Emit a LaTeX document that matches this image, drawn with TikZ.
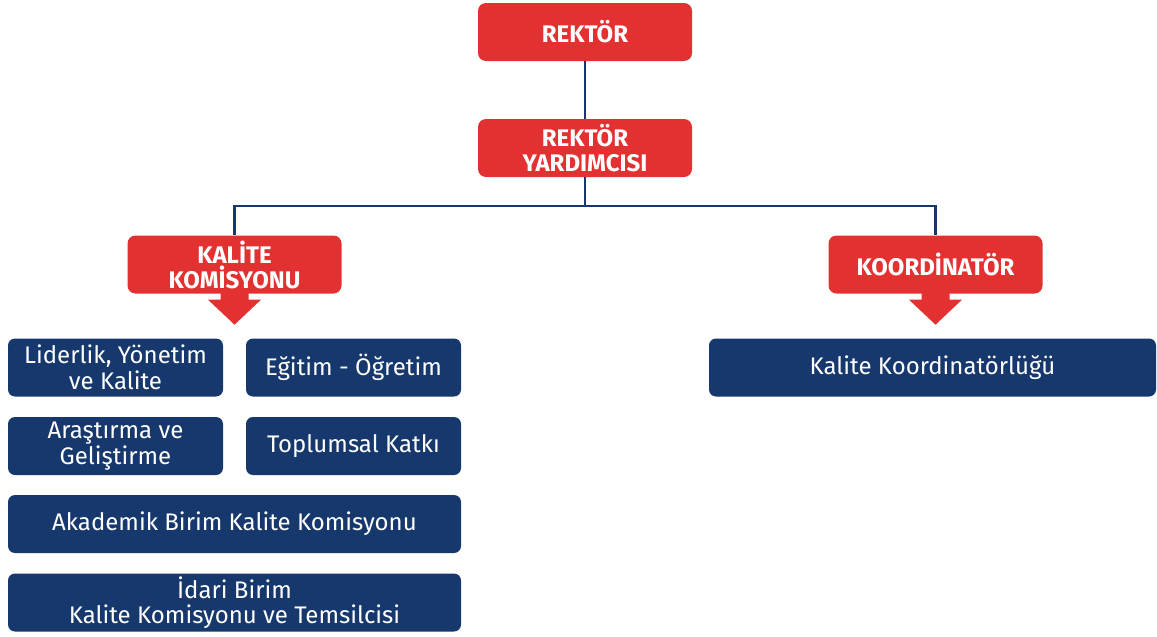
\documentclass[tikz,border=0pt]{standalone}
\usepackage{fontspec}
\setmainfont{Fira Sans}
\definecolor{kred}{HTML}{E33132}
\definecolor{kblue}{HTML}{16386C}
\begin{document}
\begin{tikzpicture}[x=1pt,y=-1pt,
 redbox/.style={fill=kred, rounded corners=8pt, text=white, font=\fontsize{24}{25}\selectfont\bfseries, align=center, inner sep=0pt, minimum width=214pt, minimum height=58pt},
 bluebox/.style={fill=kblue, rounded corners=7pt, text=white, font=\fontsize{24}{25.5}\selectfont, align=center, inner sep=0pt, minimum height=58pt},
 link/.style={draw=kblue, line width=2.6pt},
 downarrow/.style={fill=kred}]
\useasboundingbox (0,0) rectangle (1157,637);
% red boxes
\node[redbox] (rek) at (585,32) {REKTÖR};
\node[redbox] (ry) at (585,148) {REKTÖR\\YARDIMCISI};
\node[redbox] (kk) at (234.5,264.5) {KALİTE\\KOMİSYONU};
\node[redbox] (ko) at (935.5,264.5) {KOORDİNATÖR};
% connectors
\coordinate (bus) at (585,206);
\draw[link] (rek.south) -- (ry.north);
\draw[link] (ry.south) -- (bus);
\draw[link] (kk.north) |- (bus) -| (ko.north);
% down arrows
\fill[downarrow, shift={(kk.south)}] (-14,-2) -- (14,-2) -- (14,6) -- (26.5,6) -- (0,31) -- (-26.5,6) -- (-14,6) -- cycle;
\fill[downarrow, shift={(ko.south)}] (-14,-2) -- (14,-2) -- (14,6) -- (26.5,6) -- (0,31) -- (-26.5,6) -- (-14,6) -- cycle;
% blue boxes
\node[bluebox, minimum width=215pt] (lid) at (115.5,367.5) {Liderlik, Yönetim\\ve Kalite};
\node[bluebox, minimum width=215pt] (egi) at (353.5,367.5) {Eğitim - Öğretim};
\node[bluebox, minimum width=215pt] (ara) at (115.5,446) {Araştırma ve\\Geliştirme};
\node[bluebox, minimum width=215pt] (top) at (353.5,446) {Toplumsal Katkı};
\node[bluebox, minimum width=453pt] (aka) at (234.5,524) {Akademik Birim Kalite Komisyonu};
\node[bluebox, minimum width=453pt] (ida) at (234.5,602.5) {İdari Birim\\Kalite Komisyonu ve Temsilcisi};
\node[bluebox, minimum width=447pt] (kko) at (932.5,367.5) {Kalite Koordinatörlüğü};
\end{tikzpicture}
\end{document}
